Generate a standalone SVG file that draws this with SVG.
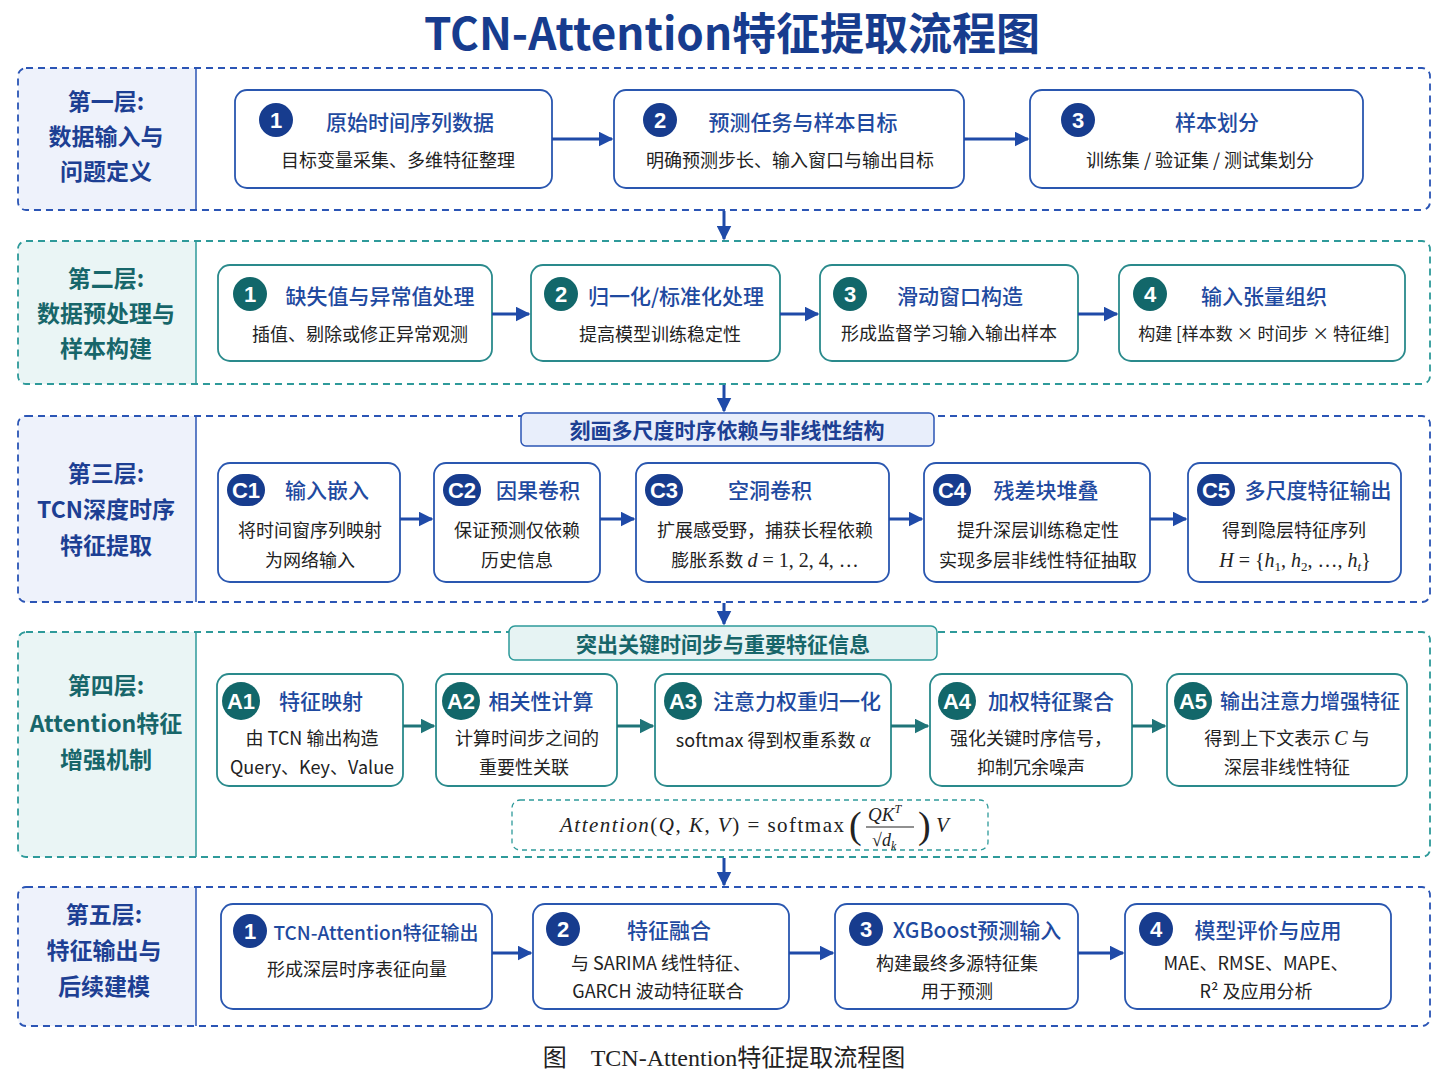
<svg xmlns="http://www.w3.org/2000/svg" width="1448" height="1086" viewBox="0 0 1448 1086">
<style>
text{font-family:"Noto Sans CJK SC","Noto Sans",sans-serif}
.lb{fill:none;stroke:#2b55b5;stroke-width:1.8;stroke-dasharray:7 5}
.lt{fill:none;stroke:#2e9a9a;stroke-width:1.8;stroke-dasharray:7 5}
.pb{fill:#eef2fb}.pt{fill:#eaf5f5}
.ht{font-size:23px;font-weight:700;text-anchor:middle}
.hb{fill:#1d3f93}.htl{fill:#17666a}
.nb{fill:#fff;stroke:#2a57b0;stroke-width:1.8}
.nt{fill:#fff;stroke:#2a8a8c;stroke-width:1.8}
.tt{font-size:21px;font-weight:500;fill:#1f4aa0;text-anchor:middle}
.st{font-size:18px;fill:#222;text-anchor:middle}
.cb{fill:#173c8e}.ct{fill:#12676a}
.bn{font-family:"Liberation Sans",sans-serif;font-size:22px;font-weight:700;fill:#fff;text-anchor:middle}
.ab{stroke:#1f4aa8;stroke-width:3;fill:none;marker-end:url(#mb)}
.at{stroke:#1f7478;stroke-width:3;fill:none;marker-end:url(#mt)}
.m{font-family:"Liberation Serif",serif;fill:#222}
</style>
<defs>
<marker id="mb" viewBox="0 0 10 10" refX="9" refY="5" markerWidth="5" markerHeight="5" orient="auto"><path d="M0,0L10,5L0,10z" fill="#1f4aa8"/></marker>
<marker id="mt" viewBox="0 0 10 10" refX="9" refY="5" markerWidth="5" markerHeight="5" orient="auto"><path d="M0,0L10,5L0,10z" fill="#1f7478"/></marker>
</defs>
<rect width="1448" height="1086" fill="#fff"/>
<text x="732" y="50" font-size="44" font-weight="700" fill="#173c8e" text-anchor="middle" style="font-family:'Noto Sans CJK SC',sans-serif">TCN-Attention特征提取流程图</text>

<!-- Layer 1 -->
<g id="layer1">
<path class="pb" d="M26,68H196V210H26Q18,210 18,202V76Q18,68 26,68z"/>
<rect class="lb" x="18" y="68" width="1412" height="142" rx="8"/>
<line x1="196" y1="68" x2="196" y2="210" stroke="#2b55b5" stroke-width="1.5"/>
<text class="ht hb" x="106" y="110">第一层:</text><text class="ht hb" x="106" y="145">数据输入与</text><text class="ht hb" x="106" y="180">问题定义</text>
</g>
<g id="n1-1"><rect class="nb" x="235" y="90" width="317" height="98" rx="12"/><circle class="cb" cx="276" cy="120" r="17"/><text class="bn" x="276" y="128">1</text><text class="tt" x="410" y="130">原始时间序列数据</text><text class="st" x="398" y="167">目标变量采集、多维特征整理</text></g>
<g id="n1-2"><rect class="nb" x="614" y="90" width="350" height="98" rx="12"/><circle class="cb" cx="660" cy="120" r="17"/><text class="bn" x="660" y="128">2</text><text class="tt" x="803" y="130">预测任务与样本目标</text><text class="st" x="790" y="167">明确预测步长、输入窗口与输出目标</text></g>
<g id="n1-3"><rect class="nb" x="1030" y="90" width="333" height="98" rx="12"/><circle class="cb" cx="1078" cy="120" r="17"/><text class="bn" x="1078" y="128">3</text><text class="tt" x="1217" y="130">样本划分</text><text class="st" x="1200" y="167">训练集 / 验证集 / 测试集划分</text></g>

<!-- Layer 2 -->
<g id="layer2">
<path class="pt" d="M26,241H196V384H26Q18,384 18,376V249Q18,241 26,241z"/>
<rect class="lt" x="18" y="241" width="1412" height="143" rx="8"/>
<line x1="196" y1="241" x2="196" y2="384" stroke="#2e9a9a" stroke-width="1.5"/>
<text class="ht htl" x="106" y="287">第二层:</text><text class="ht htl" x="106" y="322">数据预处理与</text><text class="ht htl" x="106" y="357">样本构建</text>
</g>
<g id="n2-1"><rect class="nt" x="218" y="265" width="274" height="96" rx="12"/><circle class="ct" cx="250" cy="294" r="17"/><text class="bn" x="250" y="302">1</text><text class="tt" x="380" y="304">缺失值与异常值处理</text><text class="st" x="360" y="341">插值、剔除或修正异常观测</text></g>
<g id="n2-2"><rect class="nt" x="531" y="265" width="249" height="96" rx="12"/><circle class="ct" cx="561" cy="294" r="17"/><text class="bn" x="561" y="302">2</text><text class="tt" x="676" y="304">归一化/标准化处理</text><text class="st" x="660" y="341">提高模型训练稳定性</text></g>
<g id="n2-3"><rect class="nt" x="820" y="265" width="258" height="96" rx="12"/><circle class="ct" cx="850" cy="294" r="17"/><text class="bn" x="850" y="302">3</text><text class="tt" x="960" y="304">滑动窗口构造</text><text class="st" x="949" y="340">形成监督学习输入输出样本</text></g>
<g id="n2-4"><rect class="nt" x="1119" y="265" width="286" height="96" rx="12"/><circle class="ct" cx="1150" cy="294" r="17"/><text class="bn" x="1150" y="302">4</text><text class="tt" x="1264" y="304">输入张量组织</text><text class="st" x="1264" y="340" style="font-size:17px">构建 [样本数 × 时间步 × 特征维]</text></g>

<!-- Layer 3 -->
<g id="layer3">
<path class="pb" d="M26,416H196V602H26Q18,602 18,594V424Q18,416 26,416z"/>
<rect class="lb" x="18" y="416" width="1412" height="186" rx="8"/>
<line x1="196" y1="416" x2="196" y2="602" stroke="#2b55b5" stroke-width="1.5"/>
<text class="ht hb" x="106" y="482">第三层:</text><text class="ht hb" x="106" y="518">TCN深度时序</text><text class="ht hb" x="106" y="554">特征提取</text>
<rect x="521" y="413" width="413" height="33" rx="5" fill="#e8eefb" stroke="#2b55b5" stroke-width="1.5"/>
<text x="727" y="438" font-size="21" font-weight="700" fill="#1d3f93" text-anchor="middle">刻画多尺度时序依赖与非线性结构</text>
</g>
<g id="c1"><rect class="nb" x="218" y="463" width="182" height="119" rx="12"/><rect class="cb" x="227" y="474" width="38" height="32" rx="16"/><text class="bn" x="246" y="498">C1</text><text class="tt" x="327" y="498">输入嵌入</text><text class="st" x="310" y="537">将时间窗序列映射</text><text class="st" x="310" y="567">为网络输入</text></g>
<g id="c2"><rect class="nb" x="434" y="463" width="166" height="119" rx="12"/><rect class="cb" x="443" y="474" width="38" height="32" rx="16"/><text class="bn" x="462" y="498">C2</text><text class="tt" x="538" y="498">因果卷积</text><text class="st" x="517" y="537">保证预测仅依赖</text><text class="st" x="517" y="567">历史信息</text></g>
<g id="c3"><rect class="nb" x="636" y="463" width="253" height="119" rx="12"/><rect class="cb" x="645" y="474" width="38" height="32" rx="16"/><text class="bn" x="664" y="498">C3</text><text class="tt" x="770" y="498">空洞卷积</text><text class="st" x="765" y="537">扩展感受野，捕获长程依赖</text><text class="st" x="765" y="567">膨胀系数 <tspan class="m" font-style="italic" style="font-size:20px">d</tspan><tspan class="m" style="font-size:20px"> = 1, 2, 4, …</tspan></text></g>
<g id="c4"><rect class="nb" x="924" y="463" width="226" height="119" rx="12"/><rect class="cb" x="933" y="474" width="38" height="32" rx="16"/><text class="bn" x="952" y="498">C4</text><text class="tt" x="1046" y="498">残差块堆叠</text><text class="st" x="1038" y="537">提升深层训练稳定性</text><text class="st" x="1038" y="567">实现多层非线性特征抽取</text></g>
<g id="c5"><rect class="nb" x="1188" y="463" width="213" height="119" rx="12"/><rect class="cb" x="1197" y="474" width="38" height="32" rx="16"/><text class="bn" x="1216" y="498">C5</text><text class="tt" x="1318" y="498">多尺度特征输出</text><text class="st" x="1294" y="537">得到隐层特征序列</text><text class="m" x="1295" y="567" text-anchor="middle" style="font-size:20px"><tspan font-style="italic">H</tspan> = {<tspan font-style="italic">h</tspan><tspan style="font-size:13px" dy="4">1</tspan><tspan dy="-4">, </tspan><tspan font-style="italic">h</tspan><tspan style="font-size:13px" dy="4">2</tspan><tspan dy="-4">, …, </tspan><tspan font-style="italic">h</tspan><tspan style="font-size:13px" dy="4" font-style="italic">t</tspan><tspan dy="-4">}</tspan></text></g>

<!-- Layer 4 -->
<g id="layer4">
<path class="pt" d="M26,632H196V857H26Q18,857 18,849V640Q18,632 26,632z"/>
<rect class="lt" x="18" y="632" width="1412" height="225" rx="8"/>
<line x1="196" y1="632" x2="196" y2="857" stroke="#2e9a9a" stroke-width="1.5"/>
<text class="ht htl" x="106" y="694">第四层:</text><text class="ht htl" x="106" y="732">Attention特征</text><text class="ht htl" x="106" y="768">增强机制</text>
<rect x="509" y="626" width="428" height="34" rx="6" fill="#e6f3f3" stroke="#2e9a9a" stroke-width="1.5"/>
<text x="723" y="652" font-size="21" font-weight="700" fill="#17666a" text-anchor="middle">突出关键时间步与重要特征信息</text>
</g>
<g id="a1"><rect class="nt" x="217" y="674" width="186" height="112" rx="12"/><circle class="ct" cx="241" cy="701" r="19"/><text class="bn" x="241" y="709">A1</text><text class="tt" x="321" y="709">特征映射</text><text class="st" x="312" y="745">由 TCN 输出构造</text><text class="st" x="312" y="774">Query、Key、Value</text></g>
<g id="a2"><rect class="nt" x="436" y="674" width="181" height="112" rx="12"/><circle class="ct" cx="461" cy="701" r="19"/><text class="bn" x="461" y="709">A2</text><text class="tt" x="541" y="709">相关性计算</text><text class="st" x="527" y="745">计算时间步之间的</text><text class="st" x="524" y="774">重要性关联</text></g>
<g id="a3"><rect class="nt" x="655" y="674" width="236" height="112" rx="12"/><circle class="ct" cx="683" cy="701" r="19"/><text class="bn" x="683" y="709">A3</text><text class="tt" x="797" y="709">注意力权重归一化</text><text class="st" x="773" y="747">softmax 得到权重系数 <tspan class="m" font-style="italic" style="font-size:20px">α</tspan></text></g>
<g id="a4"><rect class="nt" x="930" y="674" width="202" height="112" rx="12"/><circle class="ct" cx="957" cy="701" r="19"/><text class="bn" x="957" y="709">A4</text><text class="tt" x="1051" y="709">加权特征聚合</text><text class="st" x="1031" y="745">强化关键时序信号，</text><text class="st" x="1031" y="774">抑制冗余噪声</text></g>
<g id="a5"><rect class="nt" x="1167" y="674" width="240" height="112" rx="12"/><circle class="ct" cx="1193" cy="701" r="19"/><text class="bn" x="1193" y="709">A5</text><text class="tt" x="1310" y="709" style="font-size:20px">输出注意力增强特征</text><text class="st" x="1287" y="745">得到上下文表示 <tspan class="m" font-style="italic" style="font-size:20px">C</tspan> 与</text><text class="st" x="1287" y="774">深层非线性特征</text></g>
<g id="formula">
<rect x="512" y="800" width="476" height="50" rx="8" fill="#fff" stroke="#2e9a9a" stroke-width="1.3" stroke-dasharray="5 4"/>
<text class="m" x="560" y="832" style="font-size:21px" textLength="284" lengthAdjust="spacing"><tspan font-style="italic">Attention</tspan>(<tspan font-style="italic">Q</tspan>, <tspan font-style="italic">K</tspan>, <tspan font-style="italic">V</tspan>)  =  softmax</text>
<text class="m" x="849" y="838" style="font-size:38px;font-weight:300">(</text>
<text class="m" x="868" y="821" style="font-size:19px" font-style="italic">QK<tspan style="font-size:12px" dy="-8">T</tspan></text>
<line x1="866" y1="827" x2="914" y2="827" stroke="#222" stroke-width="1.2"/>
<text class="m" x="872" y="846" style="font-size:18px">√<tspan font-style="italic">d</tspan><tspan style="font-size:12px" dy="4" font-style="italic">k</tspan></text>
<text class="m" x="918" y="838" style="font-size:38px;font-weight:300">)</text>
<text class="m" x="936" y="832" style="font-size:21px" font-style="italic">V</text>
</g>

<!-- Layer 5 -->
<g id="layer5">
<path class="pb" d="M26,887H196V1026H26Q18,1026 18,1018V895Q18,887 26,887z"/>
<rect class="lb" x="18" y="887" width="1412" height="139" rx="8"/>
<line x1="196" y1="887" x2="196" y2="1026" stroke="#2b55b5" stroke-width="1.5"/>
<text class="ht hb" x="104" y="923">第五层:</text><text class="ht hb" x="104" y="959">特征输出与</text><text class="ht hb" x="104" y="995">后续建模</text>
</g>
<g id="n5-1"><rect class="nb" x="221" y="904" width="271" height="105" rx="12"/><circle class="cb" cx="250" cy="931" r="17"/><text class="bn" x="250" y="939">1</text><text class="tt" x="376" y="940" style="font-size:19px">TCN-Attention特征输出</text><text class="st" x="357" y="976">形成深层时序表征向量</text></g>
<g id="n5-2"><rect class="nb" x="533" y="904" width="256" height="105" rx="12"/><circle class="cb" cx="563" cy="929" r="17"/><text class="bn" x="563" y="937">2</text><text class="tt" x="669" y="938">特征融合</text><text class="st" x="661" y="970">与 SARIMA 线性特征、</text><text class="st" x="658" y="998">GARCH 波动特征联合</text></g>
<g id="n5-3"><rect class="nb" x="835" y="904" width="243" height="105" rx="12"/><circle class="cb" cx="866" cy="929" r="17"/><text class="bn" x="866" y="937">3</text><text class="tt" x="977" y="938">XGBoost预测输入</text><text class="st" x="957" y="970">构建最终多源特征集</text><text class="st" x="957" y="998">用于预测</text></g>
<g id="n5-4"><rect class="nb" x="1125" y="904" width="266" height="105" rx="12"/><circle class="cb" cx="1156" cy="929" r="17"/><text class="bn" x="1156" y="937">4</text><text class="tt" x="1268" y="938">模型评价与应用</text><text class="st" x="1256" y="970">MAE、RMSE、MAPE、</text><text class="st" x="1256" y="998">R² 及应用分析</text></g>

<g id="connectors">
<line class="ab" x1="552" y1="139" x2="612" y2="139"/>
<line class="ab" x1="964" y1="139" x2="1028" y2="139"/>
<line class="ab" x1="492" y1="314" x2="529" y2="314"/>
<line class="ab" x1="780" y1="314" x2="818" y2="314"/>
<line class="ab" x1="1078" y1="314" x2="1117" y2="314"/>
<line class="ab" x1="400" y1="519" x2="432" y2="519"/>
<line class="ab" x1="600" y1="519" x2="634" y2="519"/>
<line class="ab" x1="889" y1="519" x2="922" y2="519"/>
<line class="ab" x1="1150" y1="519" x2="1186" y2="519"/>
<line class="at" x1="403" y1="726" x2="434" y2="726"/>
<line class="at" x1="617" y1="726" x2="653" y2="726"/>
<line class="at" x1="891" y1="726" x2="928" y2="726"/>
<line class="at" x1="1132" y1="726" x2="1165" y2="726"/>
<line class="ab" x1="492" y1="953" x2="531" y2="953"/>
<line class="ab" x1="789" y1="953" x2="833" y2="953"/>
<line class="ab" x1="1078" y1="953" x2="1123" y2="953"/>
<line class="ab" x1="724" y1="211" x2="724" y2="239"/>
<line class="ab" x1="724" y1="385" x2="724" y2="411"/>
<line class="ab" x1="724" y1="603" x2="724" y2="624"/>
<line class="ab" x1="724" y1="858" x2="724" y2="885"/>
</g>
<text x="724" y="1066" font-size="24" fill="#222" text-anchor="middle" style="font-family:'Liberation Serif','Noto Sans CJK SC',serif">图　TCN-Attention特征提取流程图</text>
</svg>
